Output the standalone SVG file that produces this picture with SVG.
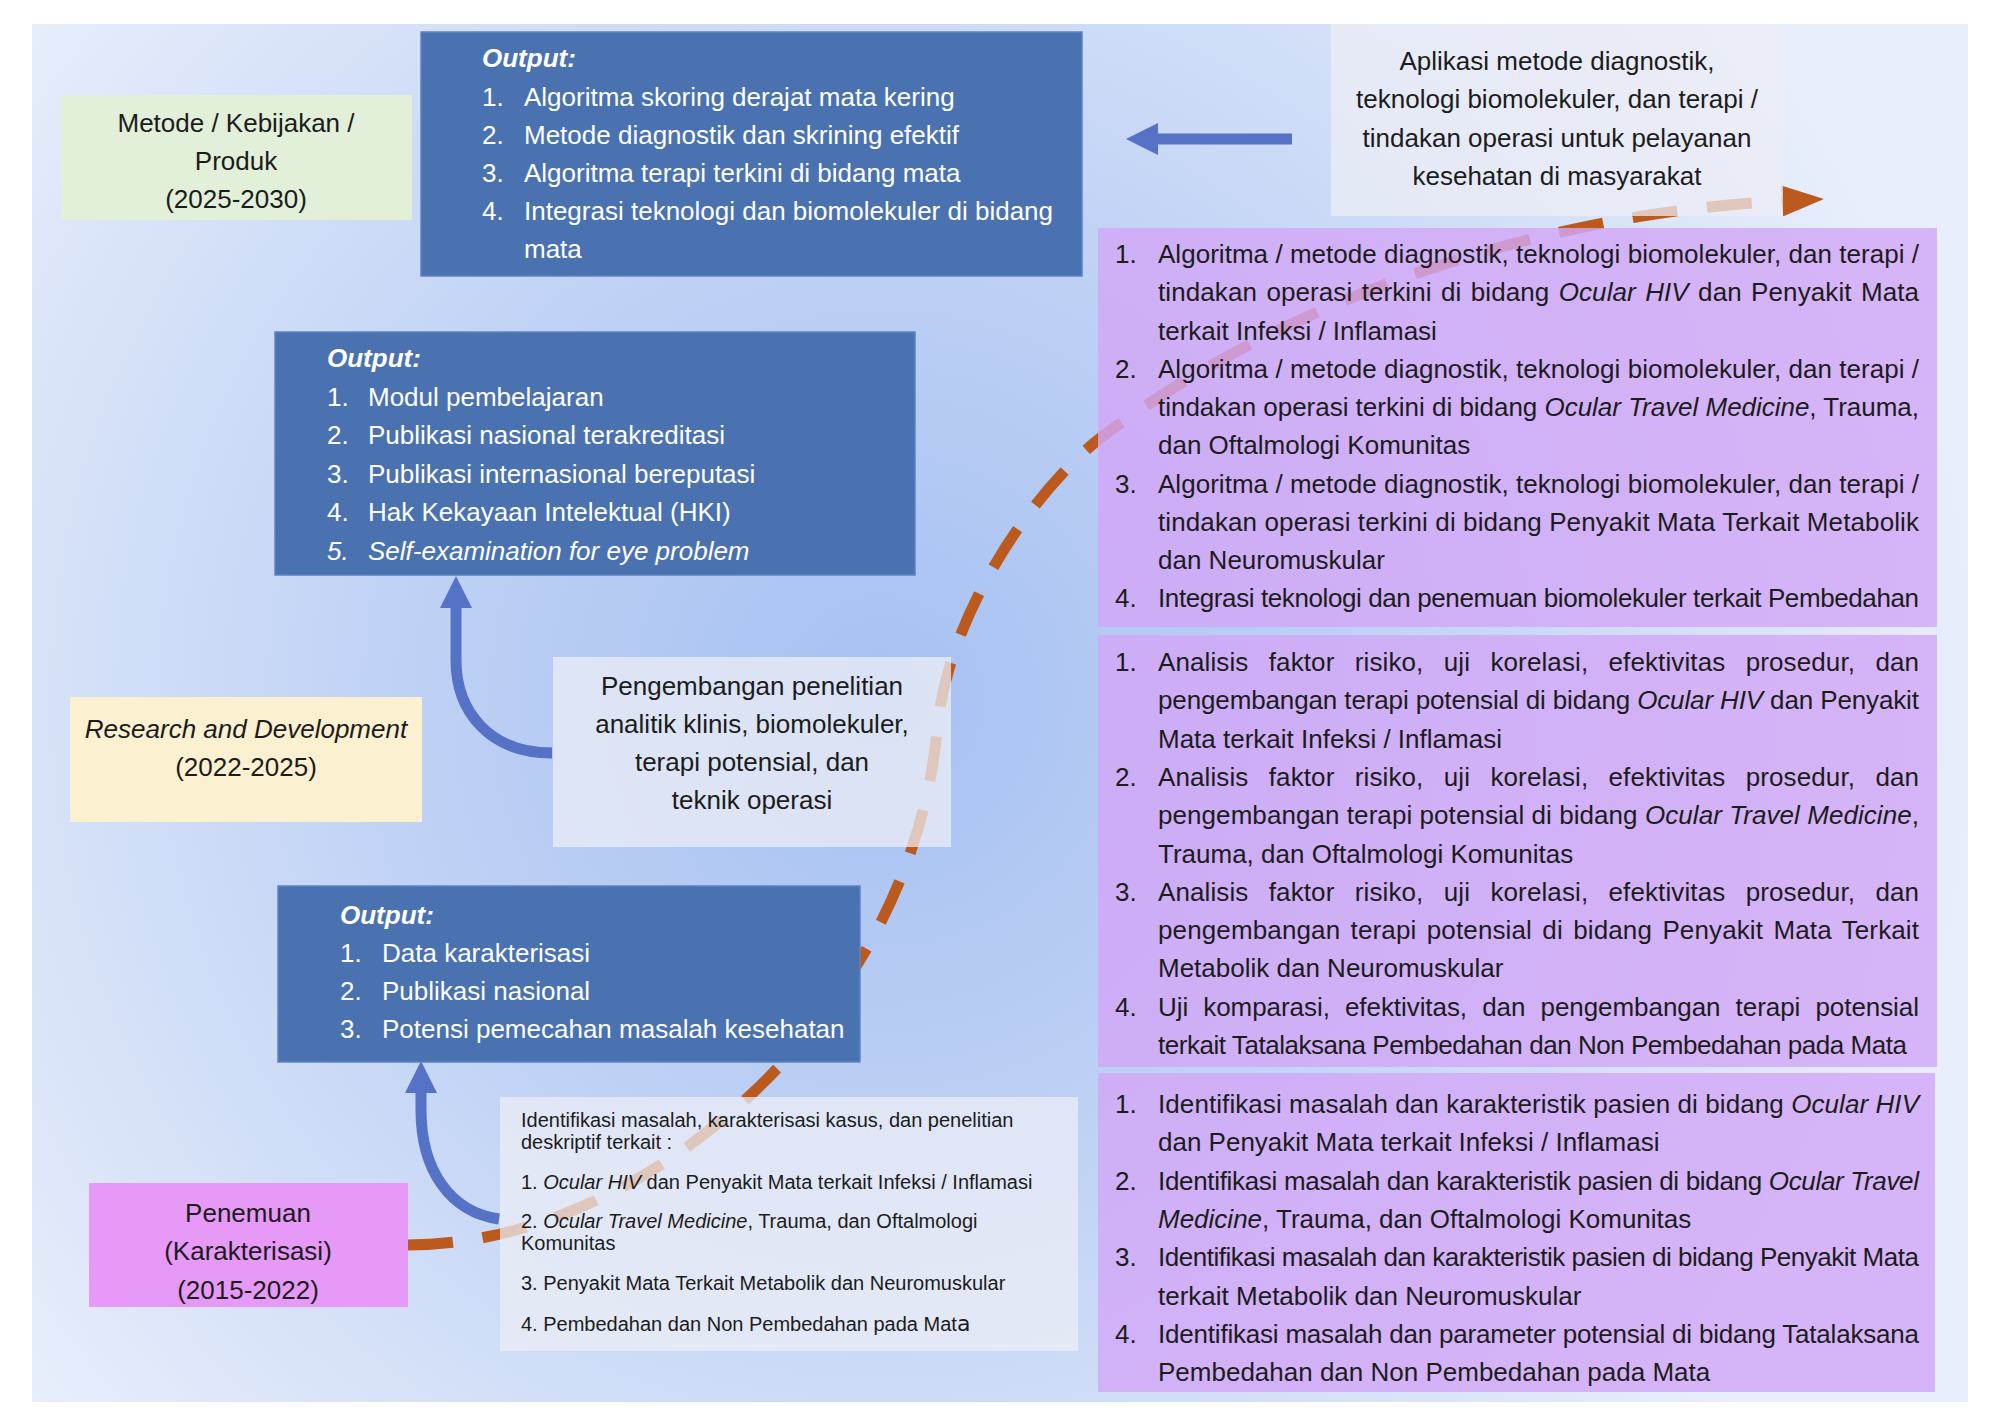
<svg xmlns="http://www.w3.org/2000/svg" width="2000" height="1413" viewBox="0 0 2000 1413">
<defs>
<radialGradient id="bg" gradientUnits="userSpaceOnUse" cx="880" cy="700" r="1100">
<stop offset="0" stop-color="#a6c1f2"/>
<stop offset="0.45" stop-color="#c0d2f5"/>
<stop offset="1" stop-color="#e8eefb"/>
</radialGradient>
<marker id="blueHead" markerUnits="userSpaceOnUse" markerWidth="32" markerHeight="32" viewBox="0 0 32 32" refX="1" refY="16" orient="auto">
<path d="M0,0 L32,16 L0,32 Z" fill="#5572c6"/>
</marker>
<marker id="orangeHead" markerUnits="userSpaceOnUse" markerWidth="42" markerHeight="31" viewBox="0 0 42 31" refX="1" refY="15.5" orient="auto">
<path d="M0,0 L42,15.5 L0,31 Z" fill="#bb5a1c"/>
</marker>
<style>
.t{font-family:"Liberation Sans",Arial,sans-serif;font-size:26px;fill:#1c1c1c}
.w{fill:#ffffff}
.i{font-style:italic}
.b{font-weight:bold}
.s{font-size:20px}
.c{text-anchor:middle}
.blue{fill:#4a72b0;stroke:#5d83c3;stroke-width:1.5}
.grey{fill:#eceef5;fill-opacity:0.74}
.purple{fill:#d2a7f7;fill-opacity:0.82}
.arrow{fill:none;stroke:#5572c6;stroke-width:11}
</style>
</defs>

<rect x="32" y="24" width="1936" height="1378" fill="url(#bg)"/>

<g id="connectors">
<path d="M408,1245 C648,1245 912,1010 937,730 C948,610 1039,484 1103,436 C1279,304 1533,213.5 1783,201" fill="none" stroke="#bb5a1c" stroke-width="11" stroke-dasharray="45 30" marker-end="url(#orangeHead)"/>
<path class="arrow" d="M552,753 C490,753 456,712 456,660 L456,607" marker-end="url(#blueHead)"/>
<path class="arrow" d="M499,1219 C450,1212 421,1170 421,1110 L421,1092" marker-end="url(#blueHead)"/>
<path class="arrow" d="M1292,139 L1157,139" marker-end="url(#blueHead)"/>
</g>

<g id="output-2025">
<rect class="blue" x="421" y="32" width="661" height="244"/>
<text class="t w b i" x="482" y="67">Output:</text>
<text class="t w" x="482" y="106">1.</text><text class="t w" x="524" y="106">Algoritma skoring derajat mata kering</text>
<text class="t w" x="482" y="144">2.</text><text class="t w" x="524" y="144">Metode diagnostik dan skrining efektif</text>
<text class="t w" x="482" y="182">3.</text><text class="t w" x="524" y="182">Algoritma terapi terkini di bidang mata</text>
<text class="t w" x="482" y="220">4.</text><text class="t w" x="524" y="220">Integrasi teknologi dan biomolekuler di bidang</text>
<text class="t w" x="524" y="258">mata</text>
</g>

<g id="period-2025">
<rect x="61" y="95" width="351" height="125" fill="#e2efd9"/>
<text class="t c" x="236" y="132">Metode / Kebijakan /</text>
<text class="t c" x="236" y="170">Produk</text>
<text class="t c" x="236" y="208">(2025-2030)</text>
</g>

<g id="output-2022">
<rect class="blue" x="275" y="332" width="640" height="243"/>
<text class="t w b i" x="327" y="367">Output:</text>
<text class="t w" x="327" y="405.5">1.</text><text class="t w" x="368" y="405.5">Modul pembelajaran</text>
<text class="t w" x="327" y="444">2.</text><text class="t w" x="368" y="444">Publikasi nasional terakreditasi</text>
<text class="t w" x="327" y="482.5">3.</text><text class="t w" x="368" y="482.5">Publikasi internasional bereputasi</text>
<text class="t w" x="327" y="521">4.</text><text class="t w" x="368" y="521">Hak Kekayaan Intelektual (HKI)</text>
<text class="t w i" x="327" y="559.5">5.</text><text class="t w i" x="368" y="559.5">Self-examination for eye problem</text>
</g>

<g id="period-2022">
<rect x="70" y="697" width="352" height="125" fill="#fbf0d0"/>
<text class="t c i" x="246" y="738">Research and Development</text>
<text class="t c" x="246" y="776">(2022-2025)</text>
</g>

<g id="output-2015">
<rect class="blue" x="278" y="886" width="582" height="176"/>
<text class="t w b i" x="340" y="924">Output:</text>
<text class="t w" x="340" y="962">1.</text><text class="t w" x="382" y="962">Data karakterisasi</text>
<text class="t w" x="340" y="1000">2.</text><text class="t w" x="382" y="1000">Publikasi nasional</text>
<text class="t w" x="340" y="1038">3.</text><text class="t w" x="382" y="1038">Potensi pemecahan masalah kesehatan</text>
</g>

<g id="period-2015">
<rect x="89" y="1183" width="319" height="124" fill="#e699f6"/>
<text class="t c" x="248" y="1222">Penemuan</text>
<text class="t c" x="248" y="1260">(Karakterisasi)</text>
<text class="t c" x="248" y="1299">(2015-2022)</text>
</g>

<g id="aplikasi">
<rect class="grey" x="1331" y="24" width="452" height="192"/>
<text class="t c" x="1557" y="70">Aplikasi metode diagnostik,</text>
<text class="t c" x="1557" y="108">teknologi biomolekuler, dan terapi /</text>
<text class="t c" x="1557" y="147">tindakan operasi untuk pelayanan</text>
<text class="t c" x="1557" y="185">kesehatan di masyarakat</text>
</g>

<g id="pengembangan">
<rect class="grey" x="553" y="657" width="398" height="190"/>
<text class="t c" x="752" y="695">Pengembangan penelitian</text>
<text class="t c" x="752" y="733">analitik klinis, biomolekuler,</text>
<text class="t c" x="752" y="771">terapi potensial, dan</text>
<text class="t c" x="752" y="809">teknik operasi</text>
</g>

<g id="identifikasi">
<rect class="grey" x="500" y="1097" width="578" height="254"/>
<text class="t s" x="521" y="1127">Identifikasi masalah, karakterisasi kasus, dan penelitian</text>
<text class="t s" x="521" y="1149">deskriptif terkait :</text>
<text class="t s" x="521" y="1189">1. <tspan class="i">Ocular HIV</tspan> dan Penyakit Mata terkait Infeksi / Inflamasi</text>
<text class="t s" x="521" y="1228">2. <tspan class="i">Ocular Travel Medicine</tspan>, Trauma, dan Oftalmologi</text>
<text class="t s" x="521" y="1250">Komunitas</text>
<text class="t s" x="521" y="1290">3. Penyakit Mata Terkait Metabolik dan Neuromuskular</text>
<text class="t s" x="521" y="1331">4. Pembedahan dan Non Pembedahan pada Mat<tspan style="font-family:'DejaVu Sans',sans-serif;font-size:22px">a</tspan></text>
</g>

<g id="roadmap-2025">
<rect class="purple" x="1098" y="228" width="839" height="399"/>
<text class="t" x="1115" y="263">1.</text>
<text class="t" x="1158" y="263" textLength="761" lengthAdjust="spacing">Algoritma / metode diagnostik, teknologi biomolekuler, dan terapi /</text>
<text class="t" x="1158" y="301.25" textLength="761" lengthAdjust="spacing" word-spacing="2">tindakan operasi terkini di bidang <tspan class="i">Ocular HIV</tspan> dan Penyakit Mata</text>
<text class="t" x="1158" y="339.5">terkait Infeksi / Inflamasi</text>
<text class="t" x="1115" y="377.75">2.</text>
<text class="t" x="1158" y="377.75" textLength="761" lengthAdjust="spacing">Algoritma / metode diagnostik, teknologi biomolekuler, dan terapi /</text>
<text class="t" x="1158" y="416" textLength="761" lengthAdjust="spacing">tindakan operasi terkini di bidang <tspan class="i">Ocular Travel Medicine</tspan>, Trauma,</text>
<text class="t" x="1158" y="454.25">dan Oftalmologi Komunitas</text>
<text class="t" x="1115" y="492.5">3.</text>
<text class="t" x="1158" y="492.5" textLength="761" lengthAdjust="spacing">Algoritma / metode diagnostik, teknologi biomolekuler, dan terapi /</text>
<text class="t" x="1158" y="530.75" textLength="761" lengthAdjust="spacing">tindakan operasi terkini di bidang Penyakit Mata Terkait Metabolik</text>
<text class="t" x="1158" y="569">dan Neuromuskular</text>
<text class="t" x="1115" y="607.25">4.</text>
<text class="t" x="1158" y="607.25" textLength="761" lengthAdjust="spacing">Integrasi teknologi dan penemuan biomolekuler terkait Pembedahan</text>
</g>

<g id="roadmap-2022">
<rect class="purple" x="1098" y="635" width="839" height="432"/>
<text class="t" x="1115" y="671">1.</text>
<text class="t" x="1158" y="671" textLength="761" lengthAdjust="spacing" word-spacing="13">Analisis faktor risiko, uji korelasi, efektivitas prosedur, dan</text>
<text class="t" x="1158" y="709.3" textLength="761" lengthAdjust="spacing">pengembangan terapi potensial di bidang <tspan class="i">Ocular HIV</tspan> dan Penyakit</text>
<text class="t" x="1158" y="747.6">Mata terkait Infeksi / Inflamasi</text>
<text class="t" x="1115" y="785.9">2.</text>
<text class="t" x="1158" y="785.9" textLength="761" lengthAdjust="spacing" word-spacing="13">Analisis faktor risiko, uji korelasi, efektivitas prosedur, dan</text>
<text class="t" x="1158" y="824.2" textLength="761" lengthAdjust="spacing">pengembangan terapi potensial di bidang <tspan class="i">Ocular Travel Medicine</tspan>,</text>
<text class="t" x="1158" y="862.5">Trauma, dan Oftalmologi Komunitas</text>
<text class="t" x="1115" y="900.8">3.</text>
<text class="t" x="1158" y="900.8" textLength="761" lengthAdjust="spacing" word-spacing="13">Analisis faktor risiko, uji korelasi, efektivitas prosedur, dan</text>
<text class="t" x="1158" y="939.1" textLength="761" lengthAdjust="spacing" word-spacing="3">pengembangan terapi potensial di bidang Penyakit Mata Terkait</text>
<text class="t" x="1158" y="977.4">Metabolik dan Neuromuskular</text>
<text class="t" x="1115" y="1015.7">4.</text>
<text class="t" x="1158" y="1015.7" textLength="761" lengthAdjust="spacing" word-spacing="8">Uji komparasi, efektivitas, dan pengembangan terapi potensial</text>
<text class="t" x="1158" y="1054" textLength="749" lengthAdjust="spacing">terkait Tatalaksana Pembedahan dan Non Pembedahan pada Mata</text>
</g>

<g id="roadmap-2015">
<rect class="purple" x="1098" y="1073" width="837" height="319"/>
<text class="t" x="1115" y="1113">1.</text>
<text class="t" x="1158" y="1113" textLength="761" lengthAdjust="spacing">Identifikasi masalah dan karakteristik pasien di bidang <tspan class="i">Ocular HIV</tspan></text>
<text class="t" x="1158" y="1151.3">dan Penyakit Mata terkait Infeksi / Inflamasi</text>
<text class="t" x="1115" y="1189.6">2.</text>
<text class="t" x="1158" y="1189.6" textLength="761" lengthAdjust="spacing">Identifikasi masalah dan karakteristik pasien di bidang <tspan class="i">Ocular Travel</tspan></text>
<text class="t" x="1158" y="1227.9"><tspan class="i">Medicine</tspan>, Trauma, dan Oftalmologi Komunitas</text>
<text class="t" x="1115" y="1266.2">3.</text>
<text class="t" x="1158" y="1266.2" textLength="761" lengthAdjust="spacing">Identifikasi masalah dan karakteristik pasien di bidang Penyakit Mata</text>
<text class="t" x="1158" y="1304.5">terkait Metabolik dan Neuromuskular</text>
<text class="t" x="1115" y="1342.8">4.</text>
<text class="t" x="1158" y="1342.8" textLength="761" lengthAdjust="spacing">Identifikasi masalah dan parameter potensial di bidang Tatalaksana</text>
<text class="t" x="1158" y="1381.1">Pembedahan dan Non Pembedahan pada Mata</text>
</g>
</svg>
